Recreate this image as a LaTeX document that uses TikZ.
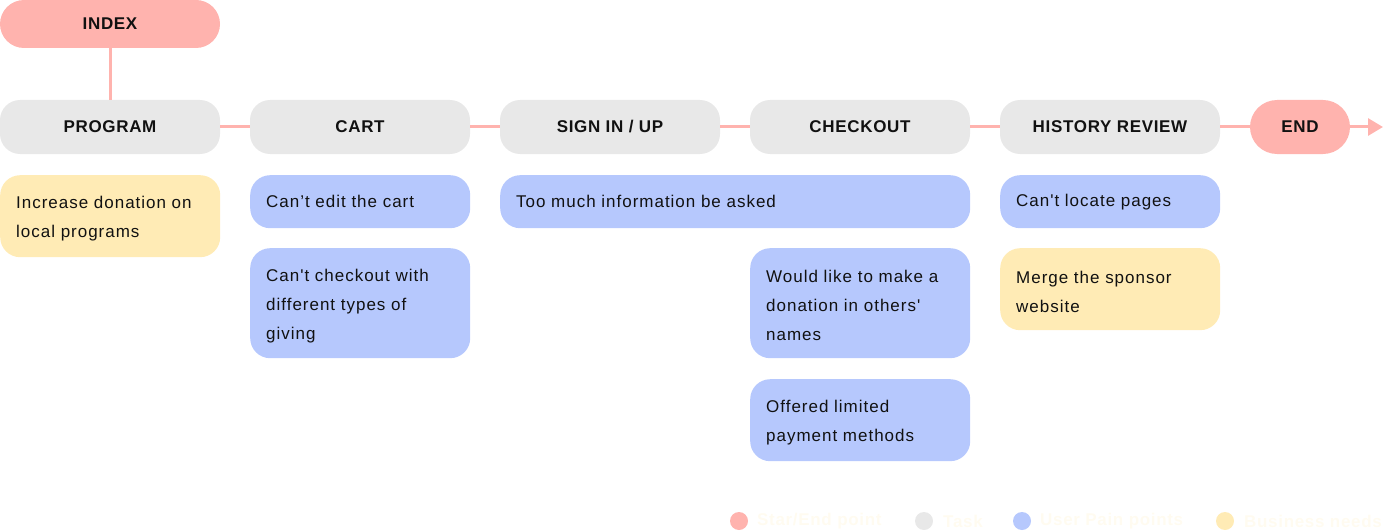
\documentclass[tikz,border=0pt]{standalone}
\usepackage{fontspec}
\setmainfont{Liberation Sans}[LetterSpace=4]
\newfontfamily\bodyfont{Liberation Sans}[LetterSpace=5.8]
\usetikzlibrary{arrows.meta}
\definecolor{startend}{HTML}{FFB3AE}
\definecolor{taskgray}{HTML}{E8E8E8}
\definecolor{painblue}{HTML}{B6C8FD}
\definecolor{bizyellow}{HTML}{FFEBB5}
\definecolor{legendtext}{HTML}{FFFBF0}
\definecolor{ink}{HTML}{111111}
\newcommand{\toprule}{\rule{0pt}{17.5pt}}
\tikzset{
  pill/.style={fill=startend, rounded corners=#1, minimum height=2*#1, inner sep=0pt, text=ink, font=\bfseries\fontsize{17}{19}\selectfont},
  taskbox/.style={fill=taskgray, rounded corners=20pt, minimum width=220pt, minimum height=54pt, inner sep=0pt, text=ink, font=\bfseries\fontsize{17}{19}\selectfont},
  card/.style={rounded corners=20pt, anchor=north west, inner xsep=16pt, inner ysep=0pt, align=left, text=ink, font=\bodyfont\fontsize{17}{29}\selectfont},
  pain/.style={card, fill=painblue},
  biz/.style={card, fill=bizyellow},
  link/.style={draw=startend, line width=3pt},
  legdot/.style={circle, minimum size=18pt, inner sep=0pt},
  legtxt/.style={anchor=west, text=legendtext, font=\bfseries\fontsize{17}{19}\selectfont, inner sep=0pt}
}
\begin{document}
\begin{tikzpicture}[x=1pt,y=-1pt]
\useasboundingbox (0,0) rectangle (1383,532);
% start
\node[pill=24pt, minimum width=220pt] (index) at (110,24) {INDEX};
% tasks
\node[taskbox] (prog) at (110,127) {PROGRAM};
\node[taskbox] (cart) at (360,127) {CART};
\node[taskbox] (sign) at (610,127) {SIGN IN / UP};
\node[taskbox] (check) at (860,127) {CHECKOUT};
\node[taskbox] (hist) at (1110,127) {HISTORY REVIEW};
\node[pill=27pt, minimum width=100pt] (end) at (1300,127) {END};
\coordinate (arrowend) at (1383,127);
% connectors
\draw[link] (index) -- (prog);
\draw[link] (prog) -- (cart);
\draw[link] (cart) -- (sign);
\draw[link] (sign) -- (check);
\draw[link] (check) -- (hist);
\draw[link] (hist) -- (end);
\draw[link, -{Triangle[length=15pt,width=17pt]}] (end) -- (arrowend);
% cards
\node[biz, text width=188pt, minimum height=82pt] (c1) at (0,175) {\toprule Increase donation on\\local programs};
\node[pain, text width=188pt, minimum height=53pt] (c2) at (250,175) {Can’t edit the cart};
\node[pain, text width=188pt, minimum height=110pt] (c3) at (250,248) {\toprule Can't checkout with\\different types of\\giving};
\node[pain, text width=438pt, minimum height=53pt] (c4) at (500,175) {Too much information be asked};
\node[pain, text width=188pt, minimum height=110pt] (c5) at (750,248) {\toprule Would like to make a\\donation in others'\\names};
\node[pain, text width=188pt, minimum height=82pt] (c6) at (750,379) {\toprule Offered limited\\payment methods};
\node[pain, text width=188pt, minimum height=53pt] (c7) at (1000,175) {Can't locate pages};
\node[biz, text width=188pt, minimum height=82pt] (c8) at (1000,248) {\toprule Merge the sponsor\\website};
% legend
\node[legdot, fill=startend] (l1) at (739,521) {};
\node[legtxt] (t1) at (757,521) {Star/End point};
\node[legdot, fill=taskgray] (l2) at (924,521) {};
\node[legtxt] (t2) at (943,521) {Task};
\node[legdot, fill=painblue] (l3) at (1022,521) {};
\node[legtxt] (t3) at (1040,521) {User Pain points};
\node[legdot, fill=bizyellow] (l4) at (1225,521) {};
\node[legtxt] (t4) at (1244,521) {Business needs};
\end{tikzpicture}
\end{document}
